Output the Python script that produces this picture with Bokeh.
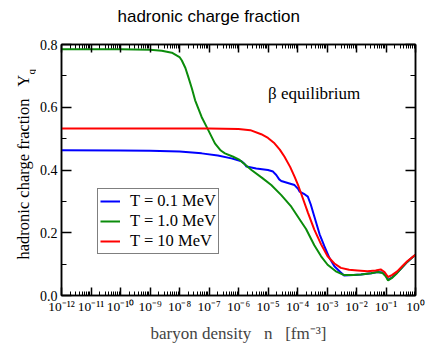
import numpy as np
from math import pi
from bokeh.plotting import figure
from bokeh.layouts import row
from bokeh.models import (FixedTicker, LogAxis, LinearAxis, Label, Legend, LegendItem,
                          CustomJSTickFormatter, Range1d, ColumnDataSource, Title)
from bokeh.embed import file_html
from bokeh.resources import INLINE

# ---- data (log10 of baryon density n [fm^-3], hadronic charge fraction Y_q) ----
logn_01 = [-12, -10, -9, -8, -7.25, -6.7, -6.24, -5.90, -5.80, -5.73, -5.4, -5.0, -4.83, -4.72,
           -4.62, -4.55, -4.30, -4.10, -3.98, -3.93, -3.75, -3.65, -3.55, -3.43, -3.25, -3.09,
           -2.92, -2.75, -2.55, -2.42, -2.1, -1.85, -1.5, -1.29, -1.12, -1.0, -0.93, -0.8,
           -0.62, -0.45, -0.28, -0.12, 0.0]
yq_01 = [0.463, 0.462, 0.461, 0.459, 0.453, 0.446, 0.437, 0.428, 0.420, 0.411, 0.405, 0.400, 0.395,
         0.384, 0.370, 0.365, 0.358, 0.352, 0.340, 0.331, 0.322, 0.315, 0.290, 0.252, 0.195, 0.157,
         0.120, 0.093, 0.075, 0.064, 0.065, 0.067, 0.071, 0.075, 0.073, 0.062, 0.050, 0.057,
         0.073, 0.090, 0.107, 0.120, 0.130]

logn_1 = [-12, -10, -9, -8.6, -8.26, -8.0, -7.92, -7.8, -7.70, -7.58, -7.47, -7.35, -7.25, -7.05,
          -6.80, -6.6, -6.46, -6.2, -5.96, -5.56, -5.2, -4.89, -4.55, -4.21, -3.88, -3.71, -3.43,
          -3.2, -2.98, -2.7, -2.42, -2.1, -1.85, -1.5, -1.29, -1.12, -1.0, -0.93, -0.8, -0.62,
          -0.45, -0.28, -0.12, 0.0]
yq_1 = [0.785, 0.785, 0.783, 0.780, 0.774, 0.760, 0.749, 0.725, 0.696, 0.660, 0.622, 0.593, 0.569,
        0.532, 0.485, 0.462, 0.453, 0.443, 0.432, 0.400, 0.375, 0.352, 0.320, 0.283, 0.236, 0.212,
        0.160, 0.125, 0.098, 0.077, 0.065, 0.065, 0.067, 0.071, 0.075, 0.072, 0.060, 0.048, 0.056,
        0.072, 0.090, 0.107, 0.120, 0.130]

logn_10 = [-12, -7, -6.0, -5.6, -5.23, -5.0, -4.78, -4.6, -4.44, -4.25, -4.10, -3.98, -3.88, -3.65,
           -3.43, -3.2, -2.98, -2.75, -2.53, -2.25, -1.97, -1.63, -1.35, -1.18, -1.05, -0.93, -0.8,
           -0.62, -0.45, -0.28, -0.12, 0.0]
yq_10 = [0.532, 0.532, 0.531, 0.527, 0.514, 0.502, 0.485, 0.465, 0.442, 0.410, 0.379, 0.352, 0.326,
         0.265, 0.210, 0.163, 0.125, 0.102, 0.088, 0.082, 0.080, 0.077, 0.080, 0.083, 0.075, 0.059,
         0.065, 0.077, 0.093, 0.109, 0.121, 0.130]

series_labels = ["T = 0.1 MeV", "T = 1.0 MeV", "T = 10 MeV"]
series_colors = ["#0000ff", "#0b8c0b", "#ff0000"]

x_tick_exps = list(range(-12, 1))
x_tick_labels = ["10⁻¹²", "10⁻¹¹", "10⁻¹⁰", "10⁻⁹", "10⁻⁸", "10⁻⁷", "10⁻⁶",
                 "10⁻⁵", "10⁻⁴", "10⁻³", "10⁻²", "10⁻¹", "10⁰"]
y_major = [0.0, 0.2, 0.4, 0.6, 0.8]
y_minor = [0.1, 0.3, 0.5, 0.7]

SERIF = "Liberation Serif"
W, H = 432, 345
LAB_W = 36                      # strip holding the rotated y-axis title
FL, FR, FT, FB = 59, 17, 44, 49  # frame borders on the whole canvas
FRAME_BOTTOM = H - FB           # canvas y of the frame bottom (row aligns the strip to it)

# ---- left strip with the y-axis title (Y with subscript q) ----
ylab = figure(width=LAB_W, height=H, x_range=Range1d(0, LAB_W), y_range=Range1d(0, H),
              output_backend="svg", toolbar_location=None,
              x_axis_location=None, y_axis_location=None,
              min_border_left=0, min_border_right=0, min_border_top=0, min_border_bottom=0)
ylab.outline_line_color = None
ylab.xgrid.visible = False
ylab.ygrid.visible = False
ylab.background_fill_color = "white"
ylab.border_fill_color = "white"
ylab.add_layout(Label(x=23, y=FRAME_BOTTOM - 260, x_units="screen", y_units="screen", angle=pi / 2,
                      text="hadronic charge fraction\u2002 Y", text_font=SERIF,
                      text_font_size="16.5px", text_color="black", text_align="left",
                      text_baseline="alphabetic"))
ylab.add_layout(Label(x=30, y=FRAME_BOTTOM - 75, x_units="screen", y_units="screen", angle=pi / 2,
                      text="q", text_font=SERIF, text_font_size="11px", text_color="black",
                      text_align="left", text_baseline="alphabetic"))

# ---- main plot ----
p = figure(width=W - LAB_W, height=H, x_axis_type="log",
           x_range=Range1d(1e-12, 1.0), y_range=Range1d(0.0, 0.8),
           output_backend="svg", toolbar_location=None,
           min_border_left=FL - LAB_W, min_border_right=FR, min_border_top=FT, min_border_bottom=FB)
p.background_fill_color = "white"
p.border_fill_color = "white"
p.xgrid.visible = False
p.ygrid.visible = False
p.outline_line_color = "black"
p.outline_line_width = 1.5

x_major = [10.0 ** k for k in x_tick_exps]
x_minor = [m * 10.0 ** k for k in x_tick_exps[:-1] for m in range(2, 10)]
xticker = FixedTicker(ticks=x_major, minor_ticks=x_minor)
yticker = FixedTicker(ticks=y_major, minor_ticks=y_minor)

xfmt = CustomJSTickFormatter(args=dict(labels=x_tick_labels),
                             code="return labels[Math.round(Math.log10(tick)) + 12];")
blank = CustomJSTickFormatter(code="return '';")

def style_axis(ax, tin, tmin):
    ax.axis_line_color = "black"
    ax.axis_line_width = 1.5
    ax.major_tick_in = tin
    ax.major_tick_out = 0
    ax.minor_tick_in = tmin
    ax.minor_tick_out = 0
    ax.major_tick_line_color = "black"
    ax.minor_tick_line_color = "black"
    ax.major_tick_line_width = 1.5
    ax.minor_tick_line_width = 1
    ax.major_label_text_font = SERIF
    ax.major_label_text_font_size = "14px"
    ax.major_label_text_color = "black"

xa = p.xaxis[0]
xa.ticker = xticker
xa.formatter = xfmt
style_axis(xa, 8, 4)
xa.major_label_text_font_size = "13.5px"
xa.major_label_standoff = 3
xa.axis_label = "baryon density\u2002 n\u2002 [fm⁻³]"
xa.axis_label_text_font = SERIF
xa.axis_label_text_font_style = "normal"
xa.axis_label_text_font_size = "17px"
xa.axis_label_standoff = 7

ya = p.yaxis[0]
ya.ticker = yticker
ya.major_label_overrides = {v: f"{v:.1f}" for v in y_major}
style_axis(ya, 10, 5)
ya.major_label_standoff = 4

top = LogAxis(ticker=xticker, formatter=blank)
style_axis(top, 8, 4)
top.major_label_text_font_size = "0px"
p.add_layout(top, "above")

# thin blank spacer between the top axis and the title
p.add_layout(Title(text="\u00a0", text_font_size="2px", standoff=14), "above")

p.title = Title(text="hadronic charge fraction", align="left", offset=56,
                text_font="Liberation Sans", text_font_size="17px", text_font_style="normal",
                text_color="black", standoff=2)

right = LinearAxis(ticker=yticker, formatter=blank)
style_axis(right, 10, 5)
right.major_label_text_font_size = "0px"
p.add_layout(right, "right")

renderers = []
for lx, yy, col in [(logn_01, yq_01, series_colors[0]),
                    (logn_1, yq_1, series_colors[1]),
                    (logn_10, yq_10, series_colors[2])]:
    src = ColumnDataSource(dict(x=[10.0 ** v for v in lx], y=yy))
    r = p.line("x", "y", source=src, line_color=col, line_width=2)
    renderers.append(r)

legend = Legend(items=[LegendItem(label=lab, renderers=[r]) for lab, r in zip(series_labels, renderers)],
                location=(95 - FL, FRAME_BOTTOM - 255))
legend.label_text_font = SERIF
legend.label_text_font_size = "16.5px"
legend.label_text_color = "black"
legend.border_line_color = "black"
legend.border_line_width = 1.5
legend.background_fill_color = "white"
legend.background_fill_alpha = 1.0
legend.padding = 2
legend.spacing = 0
legend.margin = 0
legend.glyph_width = 20
legend.glyph_height = 16
legend.label_height = 16
legend.label_standoff = 10
p.add_layout(legend, "center")

p.add_layout(Label(x=1e-5, y=0.645, text="β equilibrium", text_font=SERIF,
                   text_font_size="17px", text_color="black", text_baseline="alphabetic"))

layout = row(ylab, p, spacing=0)
open("out.html", "w").write(file_html(layout, INLINE))
